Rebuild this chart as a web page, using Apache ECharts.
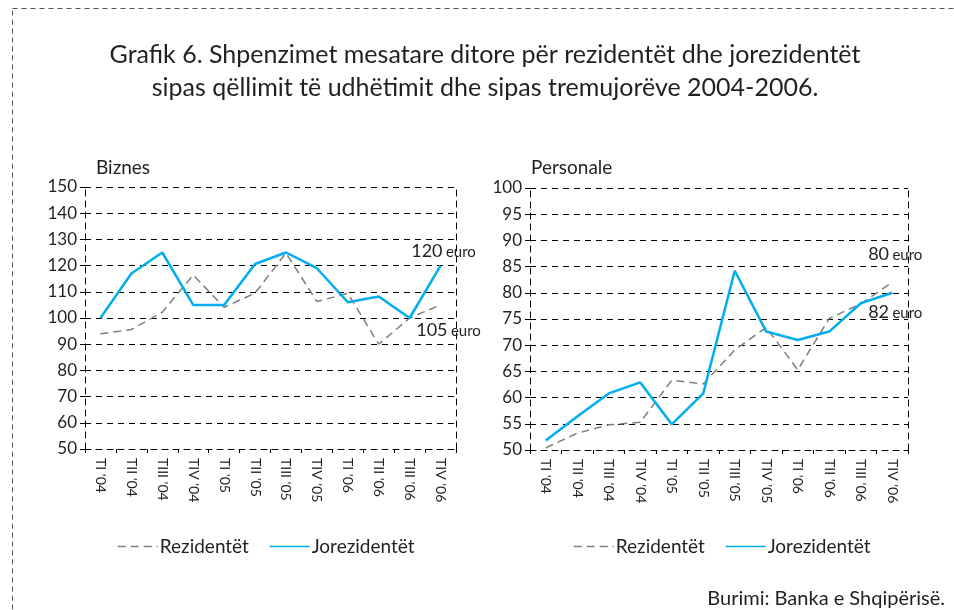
<!DOCTYPE html>
<html>
<head>
<meta charset="utf-8">
<style>
    html, body { margin: 0; padding: 0; background: #fff; }
    #main { width: 954px; height: 610px; }
</style>
</head>
<body>
<div id="main"></div>
<script src="https://cdn.jsdelivr.net/npm/echarts@6/dist/echarts.min.js"></script>
<script>
    var quarters = ["TI '04", "TII '04", "TIII '04", "TIV '04", "TI '05", "TII '05", "TIII '05", "TIV '05", "TI '06", "TII '06", "TIII '06", "TIV '06"];

    // Biznes
    var biznesRez = [94, 95.6, 102.2, 116.4, 104.1, 109.5, 124.8, 106.3, 109.4, 90, 100, 105];
    var biznesJorez = [100, 117, 125, 105, 105, 120.6, 125, 119, 106, 108.2, 100, 120];

    // Personale
    var personRez = [50.4, 53.2, 54.8, 55.3, 63.3, 62.6, 69.1, 73.4, 65.3, 75.1, 77.9, 82];
    var personJorez = [51.8, 56.4, 60.8, 62.9, 54.9, 60.8, 84.2, 72.6, 71, 72.6, 78, 80];

    var biznesTicks = [50, 150, 10];
    var personTicks = [50, 100, 5];

    var endLabels = ['120 euro', '105 euro', '80 euro', '82 euro'];

    var FONT = 'Lato';
    var TXT = '#231f20';
    var BLUE = '#00aeef';
    var GREY = '#7f7f7f';

    var dashLine = { color: '#000', width: 1, type: [6, 5] };

    function xAxis(gi) {
        return {
            type: 'category', gridIndex: gi, data: quarters,
            axisLine: { lineStyle: dashLine },
            axisTick: { show: true, length: 4, lineStyle: { color: '#000' } },
            axisLabel: { rotate: -90, margin: 9, fontFamily: FONT, fontSize: 14, color: TXT }
        };
    }
    function yAxes(gi, t) {
        return [{
            type: 'value', gridIndex: gi, min: t[0], max: t[1], interval: t[2],
            axisLine: { show: true, lineStyle: dashLine },
            axisTick: { show: true, length: 5, lineStyle: { color: '#000' } },
            splitLine: { lineStyle: dashLine },
            axisLabel: { margin: 8, fontFamily: FONT, fontSize: 17, color: TXT }
        }, {
            type: 'value', gridIndex: gi, position: 'right', min: t[0], max: t[1], interval: t[2],
            axisLine: { show: true, lineStyle: dashLine },
            axisTick: { show: false }, splitLine: { show: false },
            axisLabel: { show: false }
        }];
    }
    function endLabel(text, offset) {
        var parts = text.split(' ');
        return {
            show: true, distance: 0, align: 'center', verticalAlign: 'middle', offset: offset,
            formatter: '{n|' + parts[0] + '} {u|' + parts[1] + '}',
            rich: {
                n: { fontFamily: FONT, fontSize: 18, color: TXT },
                u: { fontFamily: FONT, fontSize: 15, color: TXT, padding: [2, 0, 0, 0] }
            }
        };
    }
    function line(name, data, gi, yi, dashed, lbl) {
        return {
            name: name, type: 'line', xAxisIndex: gi, yAxisIndex: yi, data: data,
            symbol: 'none', silent: true, z: dashed ? 2 : 3,
            lineStyle: dashed ? { color: GREY, width: 1.5, type: [8, 5] } : { color: BLUE, width: 2.5 },
            itemStyle: { color: dashed ? GREY : BLUE },
            endLabel: lbl
        };
    }
    function legend(left) {
        return {
            left: left, top: 532, itemWidth: 40, itemHeight: 10, itemGap: 20,
            data: ['Rezidentët', 'Jorezidentët'],
            itemStyle: { opacity: 0 },
            lineStyle: { width: 1.5 },
            textStyle: { fontFamily: FONT, fontSize: 19, color: TXT, padding: [0, 0, 0, -3] }
        };
    }

    var chart = echarts.init(document.getElementById('main'));
    chart.setOption({
        animation: false,
        title: [
            { text: 'Grafik 6. Shpenzimet mesatare ditore për rezidentët dhe jorezidentët\nsipas qëllimit të udhëtimit dhe sipas tremujorëve 2004-2006.',
              left: 480, top: 33, textAlign: 'center',
              textStyle: { fontFamily: FONT, fontSize: 25, fontWeight: 'normal', color: TXT, lineHeight: 33 } },
            { text: 'Biznes', left: 91, top: 153,
              textStyle: { fontFamily: FONT, fontSize: 19, fontWeight: 'normal', color: TXT } },
            { text: 'Personale', left: 526, top: 153,
              textStyle: { fontFamily: FONT, fontSize: 19, fontWeight: 'normal', color: TXT } },
            { text: 'Burimi: Banka e Shqipërisë.', right: 4, top: 584,
              textStyle: { fontFamily: FONT, fontSize: 20, fontWeight: 'normal', color: TXT } }
        ],
        graphic: [{
            type: 'rect', silent: true,
            shape: { x: 12.5, y: 8.5, width: 1000, height: 700 },
            style: { fill: 'none', stroke: '#555', lineWidth: 1, lineDash: [5, 4] }
        }],
        legend: [legend(112), legend(568)],
        grid: [
            { left: 85, right: 498, top: 187, bottom: 161 },
            { left: 530, right: 46, top: 188, bottom: 160 }
        ],
        xAxis: [xAxis(0), xAxis(1)],
        yAxis: yAxes(0, biznesTicks).concat(yAxes(1, personTicks)),
        series: [
            line('Rezidentët', biznesRez, 0, 0, true, endLabel(endLabels[1], [8, 25])),
            line('Jorezidentët', biznesJorez, 0, 0, false, endLabel(endLabels[0], [3, -14])),
            line('Rezidentët', personRez, 1, 2, true, endLabel(endLabels[3], [3, 30])),
            line('Jorezidentët', personJorez, 1, 2, false, endLabel(endLabels[2], [3, -39]))
        ]
    });
</script>
</body>
</html>
